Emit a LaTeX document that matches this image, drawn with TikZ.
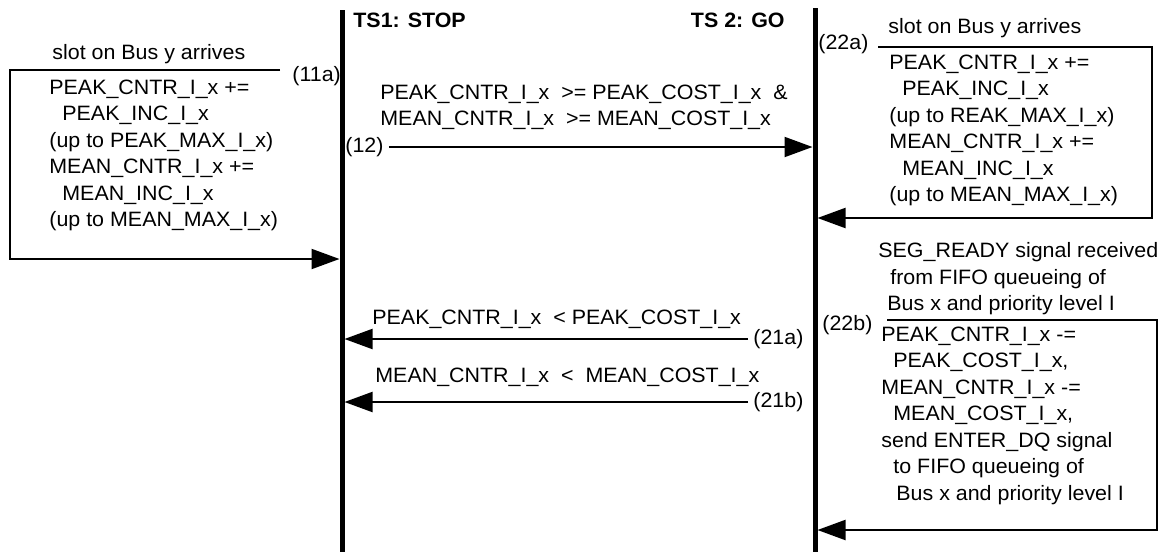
\documentclass[tikz,border=0pt]{standalone}
\usepackage{fontspec}
\setmainfont{Liberation Sans}[FakeStretch=1.03]
\usetikzlibrary{arrows.meta}

\begin{document}
\begin{tikzpicture}[x=0.5pt, y=-0.5pt, every node/.style={font=\fontsize{10.4}{13.25}\selectfont, inner sep=0pt}, lifeline/.style={line width=2.5pt}, msg/.style={line width=1pt, -{Triangle[length=14pt, width=10pt]}}, txt/.style={align=left, anchor=north west}, ttl/.style={font=\fontsize{10.4}{13.25}\selectfont\bfseries}]
	\useasboundingbox (0,0) rectangle (1164,552);
	\coordinate (ts1top) at (342,10);
	\coordinate (ts1bot) at (342,552);
	\coordinate (ts2top) at (815,8);
	\coordinate (ts2bot) at (815,552);
	\draw[lifeline] (ts1top) -- (ts1bot);
	\draw[lifeline] (ts2top) -- (ts2bot);
	\node[ttl, anchor=west] (ts1) at (353,20) {TS1: STOP};
	\node[ttl, anchor=east] (ts2) at (785,20) {TS 2: GO};
	\node[anchor=west] (slotl) at (52,54) {slot on Bus y arrives};
	\node[anchor=west] (l11a) at (292,76) {(11a)};
	\coordinate (c11a) at (280,70);
	\coordinate (ts1a) at (339.5,259);
	\node[txt] (incl) at (49,79.5) {PEAK\_CNTR\_I\_x +=\\\hspace*{6.5pt}PEAK\_INC\_I\_x\\(up to PEAK\_MAX\_I\_x)\\MEAN\_CNTR\_I\_x +=\\\hspace*{6.5pt}MEAN\_INC\_I\_x\\(up to MEAN\_MAX\_I\_x)};
	\draw[msg] (c11a) -- ++(-270,0) |- (ts1a);
	\node[txt] (cond12) at (380,84.5) {PEAK\_CNTR\_I\_x\ \ >= PEAK\_COST\_I\_x\ \ \&\\MEAN\_CNTR\_I\_x\ \ >= MEAN\_COST\_I\_x};
	\node[anchor=west] (l12) at (345,147) {(12)};
	\coordinate (ts2a) at (812.5,147);
	\draw[msg] ([xshift=2.5pt]l12.east) -- (ts2a);
	\node[anchor=west] (slotr) at (888,28) {slot on Bus y arrives};
	\node[anchor=west] (l22a) at (818,44) {(22a)};
	\coordinate (c22a) at (878,47);
	\coordinate (ts2b) at (817.5,218);
	\node[txt] (incr) at (889,54.5) {PEAK\_CNTR\_I\_x +=\\\hspace*{6.5pt}PEAK\_INC\_I\_x\\(up to REAK\_MAX\_I\_x)\\MEAN\_CNTR\_I\_x +=\\\hspace*{6.5pt}MEAN\_INC\_I\_x\\(up to MEAN\_MAX\_I\_x)};
	\draw[msg] (c22a) -- ++(274,0) |- (ts2b);
	\node[anchor=west] (cond21a) at (372,319) {PEAK\_CNTR\_I\_x\ \ < PEAK\_COST\_I\_x};
	\node[anchor=west] (l21a) at (753,339) {(21a)};
	\coordinate (ts1b) at (344.5,339);
	\draw[msg] ([xshift=-2.5pt]l21a.west) -- (ts1b);
	\node[anchor=west] (cond21b) at (375,377) {MEAN\_CNTR\_I\_x\ \ <\ \ MEAN\_COST\_I\_x};
	\node[anchor=west] (l21b) at (753,402) {(21b)};
	\coordinate (ts1c) at (344.5,402);
	\draw[msg] ([xshift=-2.5pt]l21b.west) -- (ts1c);
	\node[txt] (seg) at (878,242.5) {SEG\_READY signal received\\\hspace*{6pt}from FIFO queueing of\\\hspace*{4.5pt}Bus x and priority level I};
	\node[anchor=west] (l22b) at (822,325) {(22b)};
	\coordinate (c22b) at (887,320);
	\coordinate (ts2c) at (817.5,530);
	\node[txt] (decr) at (881,326.5) {PEAK\_CNTR\_I\_x -=\\\hspace*{6pt}PEAK\_COST\_I\_x,\\MEAN\_CNTR\_I\_x -=\\\hspace*{6pt}MEAN\_COST\_I\_x,\\send ENTER\_DQ signal\\\hspace*{6pt}to FIFO queueing of\\\hspace*{7.5pt}Bus x and priority level I};
	\draw[msg] (c22b) -- ++(270,0) |- (ts2c);
\end{tikzpicture}
\end{document}
